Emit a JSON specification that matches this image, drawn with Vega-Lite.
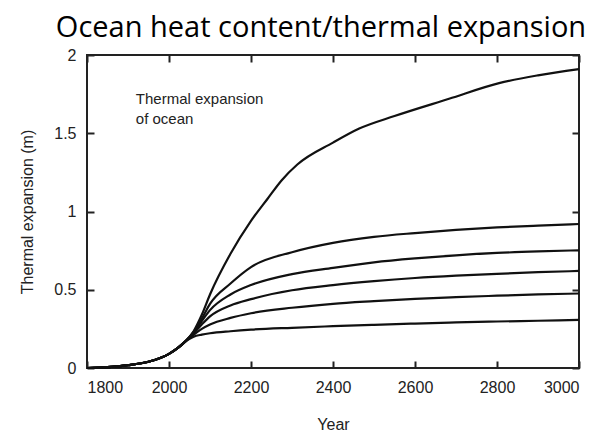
{
  "$schema": "https://vega.github.io/schema/vega-lite/v6.json",
  "width": 492,
  "height": 313,
  "autosize": "none",
  "padding": {"left": 87, "top": 55, "right": 26, "bottom": 75},
  "background": "white",
  "title": {"text": "Ocean heat content/thermal expansion", "font": "Open Sans", "fontSize": 29, "fontWeight": "normal", "color": "black", "anchor": "middle", "offset": 4, "dx": -12},
  "config": {
    "view": {"stroke": "#222", "strokeWidth": 2},
    "axis": {"domain": false, "grid": false, "ticks": true, "tickColor": "#222", "tickWidth": 2, "tickSize": 7, "offset": -7, "labelFont": "Liberation Sans", "labelFontSize": 16, "labelColor": "#222", "titleFont": "Liberation Sans", "titleFontSize": 16, "titleFontWeight": "normal", "titleColor": "#222"}
  },
  "datasets": {
    "curves": [
      {"year": 1800, "v": 0.0, "s": "A"}, {"year": 1850, "v": 0.005, "s": "A"}, {"year": 1900, "v": 0.018, "s": "A"}, {"year": 1950, "v": 0.04, "s": "A"}, {"year": 1980, "v": 0.065, "s": "A"}, {"year": 2000, "v": 0.09, "s": "A"}, {"year": 2020, "v": 0.125, "s": "A"}, {"year": 2040, "v": 0.17, "s": "A"}, {"year": 2060, "v": 0.2, "s": "A"}, {"year": 2080, "v": 0.213, "s": "A"}, {"year": 2100, "v": 0.222, "s": "A"}, {"year": 2150, "v": 0.235, "s": "A"}, {"year": 2200, "v": 0.245, "s": "A"}, {"year": 2300, "v": 0.257, "s": "A"}, {"year": 2400, "v": 0.267, "s": "A"}, {"year": 2500, "v": 0.276, "s": "A"}, {"year": 2600, "v": 0.284, "s": "A"}, {"year": 2700, "v": 0.291, "s": "A"}, {"year": 2800, "v": 0.297, "s": "A"}, {"year": 2900, "v": 0.302, "s": "A"}, {"year": 3000, "v": 0.307, "s": "A"},
      {"year": 1800, "v": 0.0, "s": "B"}, {"year": 1850, "v": 0.005, "s": "B"}, {"year": 1900, "v": 0.018, "s": "B"}, {"year": 1950, "v": 0.04, "s": "B"}, {"year": 1980, "v": 0.065, "s": "B"}, {"year": 2000, "v": 0.09, "s": "B"}, {"year": 2020, "v": 0.125, "s": "B"}, {"year": 2040, "v": 0.17, "s": "B"}, {"year": 2060, "v": 0.212, "s": "B"}, {"year": 2080, "v": 0.25, "s": "B"}, {"year": 2100, "v": 0.278, "s": "B"}, {"year": 2150, "v": 0.32, "s": "B"}, {"year": 2200, "v": 0.35, "s": "B"}, {"year": 2300, "v": 0.385, "s": "B"}, {"year": 2400, "v": 0.41, "s": "B"}, {"year": 2500, "v": 0.427, "s": "B"}, {"year": 2600, "v": 0.442, "s": "B"}, {"year": 2700, "v": 0.453, "s": "B"}, {"year": 2800, "v": 0.462, "s": "B"}, {"year": 2900, "v": 0.47, "s": "B"}, {"year": 3000, "v": 0.476, "s": "B"},
      {"year": 1800, "v": 0.0, "s": "C"}, {"year": 1850, "v": 0.005, "s": "C"}, {"year": 1900, "v": 0.018, "s": "C"}, {"year": 1950, "v": 0.04, "s": "C"}, {"year": 1980, "v": 0.065, "s": "C"}, {"year": 2000, "v": 0.09, "s": "C"}, {"year": 2020, "v": 0.125, "s": "C"}, {"year": 2040, "v": 0.17, "s": "C"}, {"year": 2060, "v": 0.22, "s": "C"}, {"year": 2080, "v": 0.278, "s": "C"}, {"year": 2100, "v": 0.33, "s": "C"}, {"year": 2150, "v": 0.4, "s": "C"}, {"year": 2200, "v": 0.44, "s": "C"}, {"year": 2300, "v": 0.497, "s": "C"}, {"year": 2400, "v": 0.53, "s": "C"}, {"year": 2500, "v": 0.555, "s": "C"}, {"year": 2600, "v": 0.575, "s": "C"}, {"year": 2700, "v": 0.59, "s": "C"}, {"year": 2800, "v": 0.602, "s": "C"}, {"year": 2900, "v": 0.612, "s": "C"}, {"year": 3000, "v": 0.62, "s": "C"},
      {"year": 1800, "v": 0.0, "s": "D"}, {"year": 1850, "v": 0.005, "s": "D"}, {"year": 1900, "v": 0.018, "s": "D"}, {"year": 1950, "v": 0.04, "s": "D"}, {"year": 1980, "v": 0.065, "s": "D"}, {"year": 2000, "v": 0.09, "s": "D"}, {"year": 2020, "v": 0.125, "s": "D"}, {"year": 2040, "v": 0.17, "s": "D"}, {"year": 2060, "v": 0.225, "s": "D"}, {"year": 2080, "v": 0.3, "s": "D"}, {"year": 2100, "v": 0.37, "s": "D"}, {"year": 2150, "v": 0.47, "s": "D"}, {"year": 2200, "v": 0.53, "s": "D"}, {"year": 2300, "v": 0.6, "s": "D"}, {"year": 2400, "v": 0.64, "s": "D"}, {"year": 2500, "v": 0.675, "s": "D"}, {"year": 2600, "v": 0.7, "s": "D"}, {"year": 2700, "v": 0.72, "s": "D"}, {"year": 2800, "v": 0.735, "s": "D"}, {"year": 2900, "v": 0.745, "s": "D"}, {"year": 3000, "v": 0.752, "s": "D"},
      {"year": 1800, "v": 0.0, "s": "E"}, {"year": 1850, "v": 0.005, "s": "E"}, {"year": 1900, "v": 0.018, "s": "E"}, {"year": 1950, "v": 0.04, "s": "E"}, {"year": 1980, "v": 0.065, "s": "E"}, {"year": 2000, "v": 0.09, "s": "E"}, {"year": 2020, "v": 0.125, "s": "E"}, {"year": 2040, "v": 0.17, "s": "E"}, {"year": 2060, "v": 0.23, "s": "E"}, {"year": 2080, "v": 0.315, "s": "E"}, {"year": 2100, "v": 0.41, "s": "E"}, {"year": 2150, "v": 0.54, "s": "E"}, {"year": 2200, "v": 0.645, "s": "E"}, {"year": 2300, "v": 0.74, "s": "E"}, {"year": 2400, "v": 0.8, "s": "E"}, {"year": 2500, "v": 0.838, "s": "E"}, {"year": 2600, "v": 0.862, "s": "E"}, {"year": 2700, "v": 0.882, "s": "E"}, {"year": 2800, "v": 0.898, "s": "E"}, {"year": 2900, "v": 0.91, "s": "E"}, {"year": 3000, "v": 0.92, "s": "E"},
      {"year": 1800, "v": 0.0, "s": "F"}, {"year": 1850, "v": 0.005, "s": "F"}, {"year": 1900, "v": 0.018, "s": "F"}, {"year": 1950, "v": 0.04, "s": "F"}, {"year": 1980, "v": 0.065, "s": "F"}, {"year": 2000, "v": 0.09, "s": "F"}, {"year": 2020, "v": 0.125, "s": "F"}, {"year": 2040, "v": 0.17, "s": "F"}, {"year": 2060, "v": 0.235, "s": "F"}, {"year": 2080, "v": 0.34, "s": "F"}, {"year": 2100, "v": 0.47, "s": "F"}, {"year": 2150, "v": 0.73, "s": "F"}, {"year": 2200, "v": 0.94, "s": "F"}, {"year": 2240, "v": 1.08, "s": "F"}, {"year": 2275, "v": 1.2, "s": "F"}, {"year": 2313, "v": 1.3, "s": "F"}, {"year": 2400, "v": 1.44, "s": "F"}, {"year": 2464, "v": 1.53, "s": "F"}, {"year": 2550, "v": 1.61, "s": "F"}, {"year": 2683, "v": 1.72, "s": "F"}, {"year": 2805, "v": 1.82, "s": "F"}, {"year": 2900, "v": 1.87, "s": "F"}, {"year": 3000, "v": 1.91, "s": "F"}
    ],
    "note": [{"year": 1919, "v": 1.69, "label": "Thermal expansion\nof ocean"}]
  },
  "resolve": {"axis": {"x": "independent", "y": "independent"}},
  "layer": [
    {
      "data": {"name": "curves"},
      "mark": {"type": "line", "color": "#111", "strokeWidth": 2.2, "interpolate": "monotone"},
      "encoding": {
        "x": {"field": "year", "type": "quantitative", "scale": {"domain": [1800, 3000], "nice": false, "zero": false}, "axis": {"orient": "bottom", "values": [1800, 2000, 2200, 2400, 2600, 2800, 3000], "format": "d", "title": "Year", "labelPadding": 11, "titlePadding": 21}},
        "y": {"field": "v", "type": "quantitative", "scale": {"domain": [0, 2], "nice": false}, "axis": {"orient": "left", "values": [0, 0.5, 1, 1.5, 2], "format": "~g", "title": "Thermal expansion (m)", "labelPadding": 11, "titlePadding": 18}},
        "detail": {"field": "s"}
      }
    },
    {
      "data": {"name": "note"},
      "mark": {"type": "text", "align": "left", "baseline": "alphabetic", "font": "Liberation Sans", "fontSize": 15, "lineHeight": 20, "lineBreak": "\n", "color": "#222"},
      "encoding": {
        "x": {"field": "year", "type": "quantitative", "axis": {"orient": "top", "values": [1800, 2000, 2200, 2400, 2600, 2800, 3000], "labels": false, "title": null}},
        "y": {"field": "v", "type": "quantitative", "axis": {"orient": "right", "values": [0, 0.5, 1, 1.5, 2], "labels": false, "title": null}},
        "text": {"field": "label"}
      }
    }
  ]
}
